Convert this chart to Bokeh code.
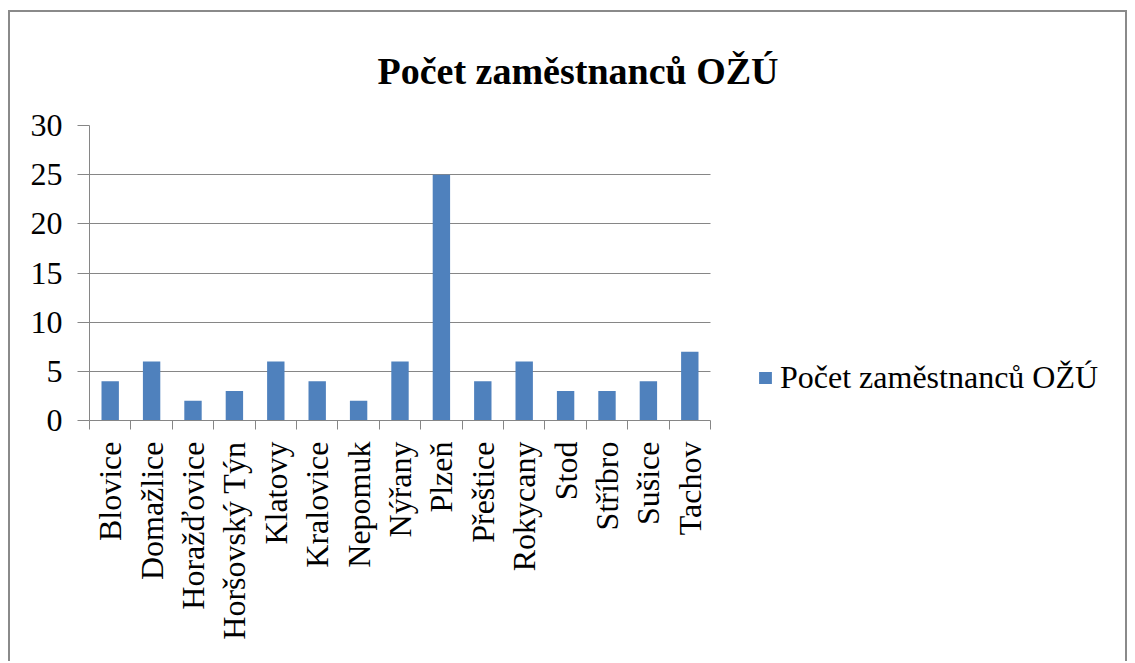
import math
from bokeh.plotting import figure
from bokeh.models import (Range1d, FixedTicker, Legend, LegendItem, Title, ColumnDataSource,
                          BoxAnnotation)
from bokeh.embed import file_html
from bokeh.resources import INLINE

categories = ["Blovice", "Domažlice", "Horažďovice", "Horšovský Týn", "Klatovy",
              "Kralovice", "Nepomuk", "Nýřany", "Plzeň", "Přeštice", "Rokycany",
              "Stod", "Stříbro", "Sušice", "Tachov"]
values = [4, 6, 2, 3, 6, 4, 2, 6, 25, 4, 6, 3, 3, 4, 7]
y_ticks = [0, 5, 10, 15, 20, 25, 30]
series_name = "Počet zaměstnanců OŽÚ"
title_text = "Počet zaměstnanců OŽÚ"

FONT = "Liberation Serif"
GRAY = "#868686"
BLUE = "#4F81BD"

# layout (pixels)
FIG_W, FIG_H = 1115, 651
LEFT, TOP, BOTTOM = 79, 113, 243
PLOT_W = 621                      # width of the category area
FRAME_W = FIG_W - LEFT            # frame extends to the right edge (legend lives there)

n = len(categories)
centers = [i + 0.5 for i in range(n)]
src = ColumnDataSource(dict(x=centers, top=values, cat=categories))

p = figure(width=FIG_W, height=FIG_H, output_backend="svg", toolbar_location=None,
           x_range=Range1d(0, n * FRAME_W / PLOT_W), y_range=Range1d(0, 30),
           min_border_left=LEFT, min_border_right=0, min_border_top=TOP,
           min_border_bottom=BOTTOM)
p.title = None
p.outline_line_color = None
p.background_fill_color = "white"
p.border_fill_color = "white"
p.styles = {"margin-left": "10px", "margin-top": "12px",
            "box-shadow": "-2px -2px 0 0 #8a8a8a, 2px -2px 0 0 #8a8a8a"}

# grid, masked beyond the category area
p.xgrid.grid_line_color = None
p.ygrid.grid_line_color = GRAY
p.ygrid.grid_line_width = 1
p.add_layout(BoxAnnotation(left=n, fill_color="white", fill_alpha=1.0,
                           line_color=None, level="underlay"))

bars = p.vbar(x="x", top="top", width=0.42, bottom=0, source=src,
              fill_color=BLUE, line_color=None)

# y axis
p.yaxis.ticker = FixedTicker(ticks=y_ticks)
p.yaxis.axis_line_color = GRAY
p.yaxis.major_tick_line_color = GRAY
p.yaxis.major_tick_out = 12
p.yaxis.major_tick_in = 0
p.yaxis.minor_tick_line_color = None
p.yaxis.major_label_text_font = FONT
p.yaxis.major_label_text_font_size = "32px"
p.yaxis.major_label_text_color = "black"
p.yaxis.major_label_standoff = 15

# x axis: labels at centers, ticks between categories
p.xaxis.bounds = (0, n)
p.xaxis.ticker = FixedTicker(ticks=centers, minor_ticks=list(range(n + 1)))
p.xaxis.major_label_overrides = {c: name for c, name in zip(centers, categories)}
p.xaxis.axis_line_color = GRAY
p.xaxis.major_tick_line_color = None
p.xaxis.major_tick_out = 0
p.xaxis.major_tick_in = 0
p.xaxis.minor_tick_line_color = GRAY
p.xaxis.minor_tick_out = 9
p.xaxis.minor_tick_in = 0
p.xaxis.major_label_orientation = math.pi / 2
p.xaxis.major_label_text_font = FONT
p.xaxis.major_label_text_font_size = "32px"
p.xaxis.major_label_text_color = "black"
p.xaxis.major_label_standoff = 12

title = Title(text=title_text, align="left", offset=288, text_font=FONT,
              text_font_size="38px", text_font_style="bold", text_color="black",
              standoff=68)
p.add_layout(title, "above")

legend = Legend(items=[LegendItem(label=series_name, renderers=[bars])],
                location=(PLOT_W + 47, 24), border_line_color=None,
                background_fill_alpha=0, padding=0, margin=0, spacing=0,
                glyph_width=16, glyph_height=15, label_standoff=7,
                label_text_font=FONT, label_text_font_size="32px",
                label_text_color="black")
p.add_layout(legend, "center")

open("out.html", "w").write(file_html(p, INLINE))
